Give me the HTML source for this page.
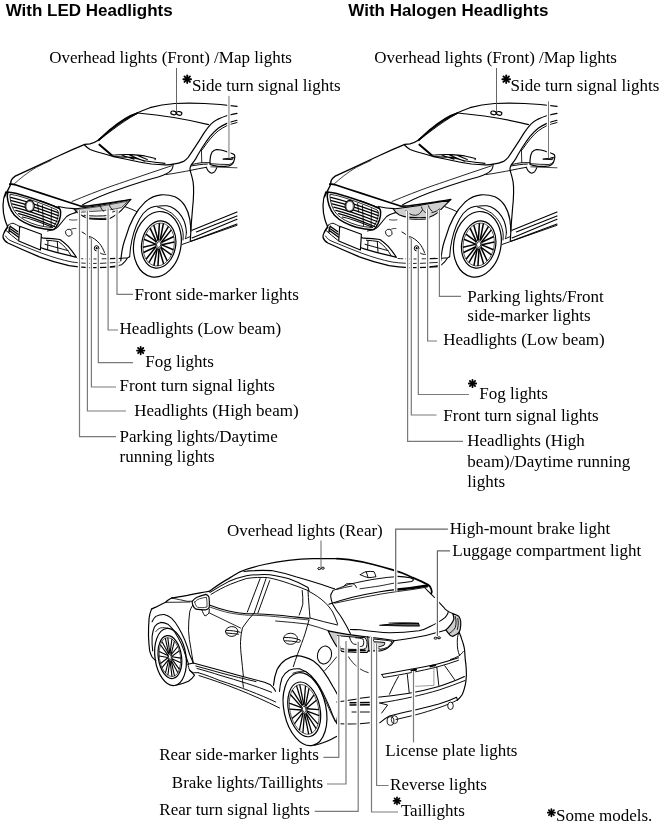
<!DOCTYPE html>
<html><head><meta charset="utf-8"><title>Exterior lights</title>
<style>
html,body{margin:0;padding:0;background:#fff;}
#pg{position:relative;width:660px;height:826px;overflow:hidden;font-family:"Liberation Serif",serif;color:#000;filter:grayscale(1);will-change:transform;}
.t{position:absolute;font:17px/20px "Liberation Serif",serif;white-space:nowrap;}
.h{position:absolute;font:bold 17px/20px "Liberation Sans",sans-serif;white-space:nowrap;}
svg{position:absolute;left:0;top:0;}
</style></head><body><div id="pg">
<svg width="660" height="826" viewBox="0 0 660 826">
<g>
<path d="M110 129.5 C120 121 130 115 137.6 112.8 C141.5 111 145.5 109.3 150 107.7 C158 105.3 166 104 174.5 103.5 C184 103 195 103 204.5 103.5 C215 104 226 105 237 106.4" fill="none" stroke="#000" stroke-width="1.22" stroke-linecap="round" stroke-linejoin="round" />
<path d="M137.6 113 C160 115 190 120 208.5 124.6" fill="none" stroke="#000" stroke-width="1.17" stroke-linecap="round" stroke-linejoin="round" />
<path d="M110 129.5 C106 133 102 137 98.2 140.2 C95.5 142 92.8 143.2 90 143.9 C88.2 144.2 86.5 144.3 84.8 144.4 C76.5 147.8 68.5 151.3 60.6 155 C52.5 158.7 44.4 162.5 36.4 166.4 C29.2 169.7 22.2 173 15.2 176.2 C13.5 177.3 12.2 178.6 11.4 180 C10.8 181.5 10.6 183 10.6 184.5 C9.8 186.6 8.7 188.6 7.6 190.6 C6.5 192.6 5.4 194.7 4.5 196.7" fill="none" stroke="#000" stroke-width="1.38" stroke-linecap="round" stroke-linejoin="round" />
<path d="M13.6 184.5 C20 178.5 27.5 172.5 36.4 167.3 C41 165 46 162.6 51 160.5" fill="none" stroke="#000" stroke-width="0.74" stroke-linecap="round" stroke-linejoin="round" />
<path d="M99 140.6 C103 137 108 133 113 129.5 C120 124.3 128 118.5 137.2 113.6" fill="none" stroke="#000" stroke-width="0.95" stroke-linecap="round" stroke-linejoin="round" />
<path d="M98.6 139.9 C102.5 136.6 106.5 133 110.5 130 C114.8 126.7 119.3 123.3 124 120.3 C128.4 117.5 133 114.9 137.5 113" fill="none" stroke="#000" stroke-width="1.59" stroke-linecap="round" stroke-linejoin="round" />
<path d="M9.8 184.2 C12 183.7 14 184.3 16 185 C24 187.6 32 190.3 40 192.9 C48 195.5 56 198.1 64.2 200.8 C70 202.7 76 204.6 81.2 206.2 C86 206.3 90.5 205.7 94.5 205 C103 203.7 112 202.5 120 201.4 C123.5 200.9 127 200.3 130.7 199.5" fill="none" stroke="#000" stroke-width="1.70" stroke-linecap="round" stroke-linejoin="round" />
<path d="M84.7 145.3 C86.5 147 88.2 148.4 90 149.5 C94 151 98 152.3 102 153.3 C105 154.2 107.8 155 110.5 155.7 C117 157.3 124 158.8 130.9 160.2 C137.5 161.7 144.5 163 151.4 164 C156.5 164.6 161.5 164.9 166.4 164.8 C168.7 164.7 171 164.5 173.2 164.1 C176.8 163.8 180.3 163 183.6 161.4 C185.3 160.2 186.8 158.9 188.2 157.3 C190.7 153.8 193.1 150.1 195.5 146.4 C198.3 142.2 201 137.9 203.6 133.6 C205.8 130.2 208.2 127 210.9 124.1 C213.1 122.2 215.5 120.5 218.2 119.1 C221.1 117.7 224.1 116.5 227.3 115.5 C230.5 114.6 233.7 113.9 237 113.4" fill="none" stroke="#000" stroke-width="1.17" stroke-linecap="round" stroke-linejoin="round" />
<path d="M99.5 144.7 L111.8 155.2" fill="none" stroke="#000" stroke-width="2.12" stroke-linecap="round" stroke-linejoin="round" />
<path d="M111.8 155.2 C118 154.6 124.5 154.4 130.9 154.6 C135.5 154.9 140 155.3 144.6 155.9 C148.3 156.6 152 157.5 155.5 158.6 L155 159.8 M113 156.6 C119 156.8 125 157 130.9 157.3 C135.5 158.2 140 159.4 144.6 160.7 C151.5 161.8 158.3 162.7 165 163.4 M129.5 155 C134.5 157.2 139.5 159.3 144.6 161.2 M137.7 155.6 C140.8 157 144 158.4 147.3 159.5 M122 155.3 L134 159.3" fill="none" stroke="#000" stroke-width="1.06" stroke-linecap="round" stroke-linejoin="round" />
<path d="M173.2 164.1 C173.2 166.2 172.7 168 171.8 169.6 C170.4 171.3 168.6 172.7 166.4 173.7 C163.8 175 161 176.1 158.2 177 C154.6 178.1 151 179.1 147.3 180 C135 183.8 122.5 188 110 192.5 C100 196 92 200 82.7 204.5" fill="none" stroke="#000" stroke-width="1.06" stroke-linecap="round" stroke-linejoin="round" />
<path d="M171.8 165.7 C158 170.3 143.5 175.2 129.5 180 C122.5 182.4 116 184.6 110 186.7 C98 191 85 196 72 201.5" fill="none" stroke="#000" stroke-width="0.85" stroke-linecap="round" stroke-linejoin="round" />
<path d="M166 174.6 C170.5 174 175.5 173.2 180 172.3 C183.7 171.7 187 171.1 190 170.5" fill="none" stroke="#000" stroke-width="0.85" stroke-linecap="round" stroke-linejoin="round" />
<path d="M237 120.3 C233.3 121.1 229.8 122.2 226.4 123.6 C223.5 124.9 220.8 126.4 218.2 128.2 C215.2 130.6 212.5 133.4 210 136.4 C207.1 140.2 204.4 144.2 201.8 148.2 C199.6 151.8 197.5 155.4 195.5 159.1 C194 161.3 192.4 163.4 190.9 165.5 C190.3 166.7 190 167.9 190 169.1 C190.2 170.5 190.5 171.8 190.9 173.1 C191.8 176 192.5 178.9 193.1 181.8 C193.6 185.4 193.7 189 193.6 192.7 C193.5 198 193.1 203.5 192.5 209 C192.2 213.4 191.8 217.8 191.4 222.1 C191.2 225 191 228 190.9 230.8 L190.3 240.6" fill="none" stroke="#000" stroke-width="1.17" stroke-linecap="round" stroke-linejoin="round" />
<path d="M237 122.5 C233.3 123.4 229.8 124.5 226.4 125.9 C223.5 127.3 220.8 129 218.2 130.9 C215.5 133.1 213.1 135.6 210.9 138.2 C207.9 141.7 205.2 145.4 202.7 149.1 L201.4 150.5" fill="none" stroke="#000" stroke-width="0.95" stroke-linecap="round" stroke-linejoin="round" />
<path d="M201.4 150 L201.8 162.7" fill="none" stroke="#000" stroke-width="0.85" stroke-linecap="round" stroke-linejoin="round" />
<path d="M191.8 164.5 C195 163.7 198.5 163.1 201.8 162.7 L209.6 162.7 M190.9 166 C196.5 165 202 164.2 207.3 164.1 M190 170.5 C195.5 169.3 201 168.2 206.4 167.3" fill="none" stroke="#000" stroke-width="0.95" stroke-linecap="round" stroke-linejoin="round" />
<path d="M210.9 166.8 L237 167.8" fill="none" stroke="#000" stroke-width="0.74" stroke-linecap="round" stroke-linejoin="round" />
<path d="M210 164.5 C209.9 161.7 210 159 210.5 156.4 C210.9 154.6 211.5 153.1 212.3 151.8 C213.3 150.7 214.5 150 215.9 149.7 C217.6 149.6 219.2 149.7 220.9 150 C223 150.5 225 151.1 226.8 151.8 C228.4 152.2 230 152.6 231.4 153.2 C232.6 153.6 233.7 154.2 234.5 155 C234.9 156.4 234.9 157.8 234.5 159.1 C234.1 160.7 233.5 162.2 232.7 163.6 C231.7 164.7 230.5 165.5 229.1 165.9 C225.5 166.3 221.8 166.5 218.2 166.4 C215.4 166 212.7 165.4 210 164.5 Z" fill="#fff" stroke="#000" stroke-width="1.17" stroke-linecap="round" stroke-linejoin="round" />
<path d="M210 163.6 C216.3 164.2 222.7 164.6 229.1 164.5 C230.7 164 232 163.3 233.2 162.3" fill="none" stroke="#000" stroke-width="0.85" stroke-linecap="round" stroke-linejoin="round" />
<path d="M206.4 167.3 C206.8 168.6 207.4 169.8 208.2 170.9 C209.1 172 210.2 172.8 211.4 173.2 C212.6 173 213.6 172.5 214.5 171.8 C215.5 170.6 216.3 169.2 216.8 167.7" fill="none" stroke="#000" stroke-width="1.06" stroke-linecap="round" stroke-linejoin="round" />
<path d="M223.2 159.1 C226.7 158.7 230.2 158.1 233.6 157.3 L232.5 159.3 Z" fill="#777" stroke="#000" stroke-width="0.95" stroke-linecap="round" stroke-linejoin="round" />
<ellipse cx="173.5" cy="112.9" rx="2.7" ry="1.8" fill="#fff" stroke="#000" stroke-width="1.2" transform="rotate(12 173.5 112.9)"/><ellipse cx="179.2" cy="113.4" rx="2.7" ry="1.8" fill="#fff" stroke="#000" stroke-width="1.2" transform="rotate(12 179.2 113.4)"/>
<path d="M192 230.3 L237 212.1 M196.3 231.9 L237 215.9 M192 237.9 L237 219.2 M190.9 241.2 L237 224.1" fill="none" stroke="#000" stroke-width="1.06" stroke-linecap="round" stroke-linejoin="round" />
<path d="M182.2 244.4 L237 225.3" fill="none" stroke="#000" stroke-width="0.95" stroke-linecap="round" stroke-linejoin="round" />
<path d="M120.8 260.8 C121.5 252 123 244 125.8 237 C128 229 130.5 223 133.6 217.4 C137 211 141 206 145.5 201.7 C150 197.8 155 195.3 161.2 194.8 C166 194.6 171 195.3 175 196.7 C179.5 199 182.5 202 184.8 205.6 C187.5 210 189 214.5 189.8 219.4 C190.5 224 190.8 227.5 190.8 231.2" fill="none" stroke="#000" stroke-width="1.17" stroke-linecap="round" stroke-linejoin="round" />
<path d="M129.7 256.8 C130 251 130.7 245.5 131.8 240.5 C133 235 134.5 230 136.4 225.5 C138.3 220.8 140.6 216.8 143.2 213.5 C145.6 210.6 148.2 208.6 151.1 207.5 C153.7 206.6 156.4 206.2 159.1 206 C161.8 205.7 164.4 205.6 167 205.8 C170 206.4 172.6 207.5 175 209.2 C177.8 211.2 180 213.7 181.8 216.6 C183.4 219 184.5 221.7 185.2 224.5 C185.9 227.2 186.3 229.8 186.4 232.5" fill="none" stroke="#000" stroke-width="1.06" stroke-linecap="round" stroke-linejoin="round" />
<path d="M157.5 207 C162.5 208.3 167.3 210.4 171.6 213.2 C174.8 215.8 177.4 218.8 179.5 222.3 C181.3 225.5 182.4 229 183 232.5 C183.3 235 183.3 237.5 183 240 M186.4 232.5 C186.3 235 185.9 237 185.2 238.8 L190.3 236.5" fill="none" stroke="#000" stroke-width="0.95" stroke-linecap="round" stroke-linejoin="round" />
<g transform="translate(157.4 244.3) rotate(10)"><ellipse rx="23.6" ry="33.0" fill="#fff" stroke="#000" stroke-width="1.2"/><g transform="translate(1.3 0)"><ellipse rx="16.99" ry="23.76" fill="#fff" stroke="#000" stroke-width="1.2"/><ellipse rx="15.46" ry="21.62" fill="none" stroke="#000" stroke-width="0.6"/><line x1="3.18" y1="-0.16" x2="15.35" y2="2.59" stroke="#000" stroke-width="1.5"/><line x1="2.74" y1="2.28" x2="14.36" y2="8.02" stroke="#000" stroke-width="1.5"/><line x1="2.64" y1="2.49" x2="11.33" y2="14.71" stroke="#000" stroke-width="1.5"/><line x1="1.26" y1="4.09" x2="8.25" y2="18.29" stroke="#000" stroke-width="1.5"/><line x1="1.09" y1="4.18" x2="2.98" y2="21.22" stroke="#000" stroke-width="1.5"/><line x1="-0.70" y1="4.35" x2="-1.02" y2="21.57" stroke="#000" stroke-width="1.5"/><line x1="-0.87" y1="4.28" x2="-6.50" y2="19.62" stroke="#000" stroke-width="1.5"/><line x1="-2.39" y1="2.94" x2="-9.89" y2="16.62" stroke="#000" stroke-width="1.5"/><line x1="-2.51" y1="2.75" x2="-13.51" y2="10.52" stroke="#000" stroke-width="1.5"/><line x1="-3.17" y1="0.41" x2="-14.99" y2="5.31" stroke="#000" stroke-width="1.5"/><line x1="-3.18" y1="0.16" x2="-15.35" y2="-2.59" stroke="#000" stroke-width="1.5"/><line x1="-2.74" y1="-2.28" x2="-14.36" y2="-8.02" stroke="#000" stroke-width="1.5"/><line x1="-2.64" y1="-2.49" x2="-11.33" y2="-14.71" stroke="#000" stroke-width="1.5"/><line x1="-1.26" y1="-4.09" x2="-8.25" y2="-18.29" stroke="#000" stroke-width="1.5"/><line x1="-1.09" y1="-4.18" x2="-2.98" y2="-21.22" stroke="#000" stroke-width="1.5"/><line x1="0.70" y1="-4.35" x2="1.02" y2="-21.57" stroke="#000" stroke-width="1.5"/><line x1="0.87" y1="-4.28" x2="6.50" y2="-19.62" stroke="#000" stroke-width="1.5"/><line x1="2.39" y1="-2.94" x2="9.89" y2="-16.62" stroke="#000" stroke-width="1.5"/><line x1="2.51" y1="-2.75" x2="13.51" y2="-10.52" stroke="#000" stroke-width="1.5"/><line x1="3.17" y1="-0.41" x2="14.99" y2="-5.31" stroke="#000" stroke-width="1.5"/><ellipse rx="3.19" ry="4.46" fill="none" stroke="#000" stroke-width="0.7"/><ellipse rx="2.12" ry="2.97" fill="#fff" stroke="#000" stroke-width="0.8"/></g></g>
<path d="M110 258.8 C116 258.8 122 258.4 127.7 257.8 L129.7 256.8 M110 266.7 C114 266.4 118 265.7 121.8 264.7 C124 263 126 260.5 127.7 257.8" fill="none" stroke="#000" stroke-width="1.06" stroke-linecap="round" stroke-linejoin="round" />
<path d="M124.8 206.6 C129 208 133 209.7 136.6 211.5" fill="none" stroke="#000" stroke-width="0.95" stroke-linecap="round" stroke-linejoin="round" />
</g>
<g><path d="M5.9 191.8 C4 196 3 201 3 205.6 C3 211 3.7 215.5 4.9 219.4 C5.7 222.5 7 225 7.9 227.3 C6 229 4.6 231 3.9 233.2 C3.2 234.5 2.9 236 3 237.3 C3.8 240 5.5 241.8 7.9 243 C18 247.7 29 252.5 39.4 256.8 C49 260.3 59 263.3 69 265.7 C76 267 82 267.5 88.6 267.6 C98 267.8 108 267.4 118 266.7" fill="none" stroke="#000" stroke-width="1.27" stroke-linecap="round" stroke-linejoin="round" />
<path d="M5.5 236 C7 238.5 9 240 12 241.3 C22 245.5 32 249.5 42 253.3 C52 257 62 260 72 262 C80 263.3 90 263.6 100 263.4 L119 262.3" fill="none" stroke="#000" stroke-width="0.85" stroke-linecap="round" stroke-linejoin="round" />
<path d="M7.9 192.1 C13.5 192.6 19 194 24.2 195.8 C30.5 197.7 36.5 199.7 42.4 201.8 C48.2 204 54 206.2 59.4 208.5 C60.2 209.5 60.5 210.5 60.6 211.5 C60.8 214.5 60.4 217.3 59.4 220 C58.6 222.8 57.4 225.2 55.8 227.3 C55.1 228.3 54.3 229.1 53.3 229.7 C47.5 229.6 41.8 228.8 36.4 227.3 C32 226 28 224.4 24.2 222.4 C20.4 220.4 17.2 218 14.5 215.2 C12 212.3 10.2 209 9.1 205.5 C8.2 202.8 7.6 200 7.3 197 C7.3 195.3 7.5 193.7 7.9 192.1 Z" fill="none" stroke="#000" stroke-width="1.48" stroke-linecap="round" stroke-linejoin="round" />
<path d="M10.4 194.3 C15 194.9 19.6 196.1 24 197.6 C30 199.5 36 201.5 41.8 203.7 C47 205.7 52.3 207.8 57.2 210 C57.9 211 58.2 212 58.3 213 C58.4 215.3 58 217.5 57.2 219.7 C56.5 222 55.5 224 54.2 225.7 C53.6 226.5 52.9 227 52.2 227.4 C47 227.2 42 226.4 37.2 225.1 C33 223.9 29.2 222.4 25.6 220.5 C22 218.6 19 216.4 16.5 213.8 C14.2 211.1 12.6 208 11.6 204.8 C10.8 202.4 10.3 199.8 10 197.2 Z" fill="none" stroke="#000" stroke-width="0.85" stroke-linecap="round" stroke-linejoin="round" />
<path d="M10.8 197.3 Q29.4 201.75 58 212.6" fill="none" stroke="#000" stroke-width="1.22" stroke-linecap="round" stroke-linejoin="round" />
<path d="M11.3 200.6 Q29.75 204.9 58.2 215.6" fill="none" stroke="#000" stroke-width="1.22" stroke-linecap="round" stroke-linejoin="round" />
<path d="M12.3 203.9 Q30.049999999999997 208.05 57.8 218.6" fill="none" stroke="#000" stroke-width="1.22" stroke-linecap="round" stroke-linejoin="round" />
<path d="M13.8 207.2 Q30.4 211.15 57 221.5" fill="none" stroke="#000" stroke-width="1.22" stroke-linecap="round" stroke-linejoin="round" />
<path d="M15.8 210.4 Q30.9 214.10000000000002 56 224.2" fill="none" stroke="#000" stroke-width="1.22" stroke-linecap="round" stroke-linejoin="round" />
<path d="M18.6 213.6 Q31.6 216.85000000000002 54.6 226.5" fill="none" stroke="#000" stroke-width="1.22" stroke-linecap="round" stroke-linejoin="round" />
<path d="M22.5 217 Q32.5 218.95000000000002 52.5 227.3" fill="none" stroke="#000" stroke-width="1.22" stroke-linecap="round" stroke-linejoin="round" />
<path d="M37.6 203.5 L38.6 212 M42.4 205.3 L43.5 225.5 M51.5 208.8 L51 227.3" fill="none" stroke="#000" stroke-width="0.85" stroke-linecap="round" stroke-linejoin="round" />
<ellipse cx="29.7" cy="206.1" rx="4.6" ry="5.7" fill="#fff" stroke="#000" stroke-width="1.1"/><ellipse cx="29.7" cy="206.1" rx="3.5" ry="4.6" fill="none" stroke="#000" stroke-width="0.5"/>
<path d="M58.2 206.4 C63.5 207.5 69 208.3 74 208.6 C75.3 209.8 76.2 211 76.4 212.3 C75.2 212.9 74 213.2 72.7 213.5 C70.5 214.2 68.5 215.2 66.7 216.5 C64.5 218.8 62.5 221.3 60.6 223.8 C59.2 225.7 57.6 227.3 55.8 228.6 C53.2 229.9 50.3 230.7 47.3 231 M40 200.8 C46.5 203 53 205.5 59.4 208" fill="none" stroke="#000" stroke-width="1.06" stroke-linecap="round" stroke-linejoin="round" />
<path d="M19.7 226.3 L41.4 234.2 L40.4 250 L18.7 241 Z" fill="#fff" stroke="#000" stroke-width="1.17" stroke-linecap="round" stroke-linejoin="round" />
<path d="M8.2 225.2 C9.7 224 11.3 223.3 13 223.2 C15.3 224 17.6 225.3 19.8 226.6 M5.5 230 C9.5 233.5 13.5 237 17.7 240.2 M8.2 225.2 C7 226.7 6.1 228.3 5.5 230" fill="none" stroke="#000" stroke-width="0.95" stroke-linecap="round" stroke-linejoin="round" />
<path d="M10.5 226.5 L17.5 231.5 M9.5 228.3 L18 234.3 M9 230.3 L18.3 237 M10.3 226 C9.3 228 8.8 230 9 232" fill="none" stroke="#000" stroke-width="1.38" stroke-linecap="round" stroke-linejoin="round" />
<path d="M41.6 237.6 C42.3 237.8 43 238 43.7 238.2 C49 238.5 54.5 238.9 60 239.5 C63 241.6 65.7 243.9 68.2 246.4 C71.2 249.9 74 253.5 76.4 257.3 C74.5 257 72.7 256.5 70.9 255.9 C62 254 53.3 251.7 45 249.1 L41 247.8" fill="none" stroke="#000" stroke-width="1.17" stroke-linecap="round" stroke-linejoin="round" />
<path d="M46.4 240.2 C50.5 240.5 54.6 241 58.7 241.6 C61.2 243.5 63.4 245.5 65.5 247.7 C67.6 250.2 69.5 252.8 71 255.3 M45 244.3 C52.7 246.3 60.5 248.5 68.2 250.7 M57.3 241.5 L58 252.5 M48 240.5 L47.6 249.5" fill="none" stroke="#000" stroke-width="0.95" stroke-linecap="round" stroke-linejoin="round" />
<ellipse cx="68.8" cy="232.7" rx="3.2" ry="3.6" fill="#fff" stroke="#000" stroke-width="0.8" transform="rotate(-25 68.8 232.7)"/>
<path d="M70.5 229.6 C72 228.6 74 228.2 76 228.6 M69.5 219.7 C72 220.2 74.5 220.2 77 219.8" fill="none" stroke="#000" stroke-width="0.74" stroke-linecap="round" stroke-linejoin="round" />
<path d="M82 232 C85 233.5 88 236 90.5 239 M89 236.3 C93 237.5 96.5 240 99.5 243.5 C101.5 246 103.2 249 104.5 252.5 M100.5 253.2 C102 254.2 104 254.6 106 254.3" fill="none" stroke="#000" stroke-width="0.95" stroke-linecap="round" stroke-linejoin="round" />
<ellipse cx="96.6" cy="248.3" rx="2.3" ry="2.6" fill="#fff" stroke="#000" stroke-width="1.0"/><ellipse cx="96.6" cy="248.3" rx="1.0" ry="1.2" fill="#000"/>
<path d="M78 258.5 C90 259.3 104 259 116 258.2" fill="none" stroke="#000" stroke-width="0.85" stroke-linecap="round" stroke-linejoin="round" stroke-dasharray="5 3"/>
<path d="M73.9 208.9 C75.3 210.5 76.8 212 78.2 213.2 C81.5 215.3 84.7 217.2 87.9 218.6 C94.5 219.4 101.5 219.6 108.5 219.2 C112 217.5 115.3 215.5 118.2 213.2 C120.4 211.3 122.4 209.3 124.2 207.1 C126.4 204.5 128.5 202 130.3 199.8 C122 201.3 113 203 104 204.6 C97 206 90 207.2 82.7 207.7 C79.7 208.2 76.8 208.6 73.9 208.9 Z" fill="#fff" stroke="#000" stroke-width="1.06" stroke-linecap="round" stroke-linejoin="round" />
<path d="M75.5 209.3 C84 208.8 93 207.5 102 206 C110 204.6 119 202.8 127.5 201.2 C125.5 203.6 123.5 205.8 121.5 207.6 C113 209.6 104 210.8 95 211.3 C89 211.6 83.5 212 79 212.6 C77.7 211.6 76.5 210.5 75.5 209.3 Z" fill="#cfcfcf" stroke="#000" stroke-width="0.64" stroke-linecap="round" stroke-linejoin="round" />
<path d="M84 215.3 C92 216.3 101 216.3 109.5 215.4 M88 218 C95 218.6 102 218.6 108.5 218" fill="none" stroke="#000" stroke-width="0.95" stroke-linecap="round" stroke-linejoin="round" />
<path d="M100.5 206.3 C101 208.5 102 210.3 103.8 211.3 M109.3 204.8 C110 207 111.3 209 113 210 M112.5 212 L117.5 210.5" fill="none" stroke="#000" stroke-width="0.85" stroke-linecap="round" stroke-linejoin="round" />
</g>
<g transform="translate(320 0)"><g>
<path d="M110 129.5 C120 121 130 115 137.6 112.8 C141.5 111 145.5 109.3 150 107.7 C158 105.3 166 104 174.5 103.5 C184 103 195 103 204.5 103.5 C215 104 226 105 237 106.4" fill="none" stroke="#000" stroke-width="1.22" stroke-linecap="round" stroke-linejoin="round" />
<path d="M137.6 113 C160 115 190 120 208.5 124.6" fill="none" stroke="#000" stroke-width="1.17" stroke-linecap="round" stroke-linejoin="round" />
<path d="M110 129.5 C106 133 102 137 98.2 140.2 C95.5 142 92.8 143.2 90 143.9 C88.2 144.2 86.5 144.3 84.8 144.4 C76.5 147.8 68.5 151.3 60.6 155 C52.5 158.7 44.4 162.5 36.4 166.4 C29.2 169.7 22.2 173 15.2 176.2 C13.5 177.3 12.2 178.6 11.4 180 C10.8 181.5 10.6 183 10.6 184.5 C9.8 186.6 8.7 188.6 7.6 190.6 C6.5 192.6 5.4 194.7 4.5 196.7" fill="none" stroke="#000" stroke-width="1.38" stroke-linecap="round" stroke-linejoin="round" />
<path d="M13.6 184.5 C20 178.5 27.5 172.5 36.4 167.3 C41 165 46 162.6 51 160.5" fill="none" stroke="#000" stroke-width="0.74" stroke-linecap="round" stroke-linejoin="round" />
<path d="M99 140.6 C103 137 108 133 113 129.5 C120 124.3 128 118.5 137.2 113.6" fill="none" stroke="#000" stroke-width="0.95" stroke-linecap="round" stroke-linejoin="round" />
<path d="M98.6 139.9 C102.5 136.6 106.5 133 110.5 130 C114.8 126.7 119.3 123.3 124 120.3 C128.4 117.5 133 114.9 137.5 113" fill="none" stroke="#000" stroke-width="1.59" stroke-linecap="round" stroke-linejoin="round" />
<path d="M9.8 184.2 C12 183.7 14 184.3 16 185 C24 187.6 32 190.3 40 192.9 C48 195.5 56 198.1 64.2 200.8 C70 202.7 76 204.6 81.2 206.2 C86 206.3 90.5 205.7 94.5 205 C103 203.7 112 202.5 120 201.4 C123.5 200.9 127 200.3 130.7 199.5" fill="none" stroke="#000" stroke-width="1.70" stroke-linecap="round" stroke-linejoin="round" />
<path d="M84.7 145.3 C86.5 147 88.2 148.4 90 149.5 C94 151 98 152.3 102 153.3 C105 154.2 107.8 155 110.5 155.7 C117 157.3 124 158.8 130.9 160.2 C137.5 161.7 144.5 163 151.4 164 C156.5 164.6 161.5 164.9 166.4 164.8 C168.7 164.7 171 164.5 173.2 164.1 C176.8 163.8 180.3 163 183.6 161.4 C185.3 160.2 186.8 158.9 188.2 157.3 C190.7 153.8 193.1 150.1 195.5 146.4 C198.3 142.2 201 137.9 203.6 133.6 C205.8 130.2 208.2 127 210.9 124.1 C213.1 122.2 215.5 120.5 218.2 119.1 C221.1 117.7 224.1 116.5 227.3 115.5 C230.5 114.6 233.7 113.9 237 113.4" fill="none" stroke="#000" stroke-width="1.17" stroke-linecap="round" stroke-linejoin="round" />
<path d="M99.5 144.7 L111.8 155.2" fill="none" stroke="#000" stroke-width="2.12" stroke-linecap="round" stroke-linejoin="round" />
<path d="M111.8 155.2 C118 154.6 124.5 154.4 130.9 154.6 C135.5 154.9 140 155.3 144.6 155.9 C148.3 156.6 152 157.5 155.5 158.6 L155 159.8 M113 156.6 C119 156.8 125 157 130.9 157.3 C135.5 158.2 140 159.4 144.6 160.7 C151.5 161.8 158.3 162.7 165 163.4 M129.5 155 C134.5 157.2 139.5 159.3 144.6 161.2 M137.7 155.6 C140.8 157 144 158.4 147.3 159.5 M122 155.3 L134 159.3" fill="none" stroke="#000" stroke-width="1.06" stroke-linecap="round" stroke-linejoin="round" />
<path d="M173.2 164.1 C173.2 166.2 172.7 168 171.8 169.6 C170.4 171.3 168.6 172.7 166.4 173.7 C163.8 175 161 176.1 158.2 177 C154.6 178.1 151 179.1 147.3 180 C135 183.8 122.5 188 110 192.5 C100 196 92 200 82.7 204.5" fill="none" stroke="#000" stroke-width="1.06" stroke-linecap="round" stroke-linejoin="round" />
<path d="M171.8 165.7 C158 170.3 143.5 175.2 129.5 180 C122.5 182.4 116 184.6 110 186.7 C98 191 85 196 72 201.5" fill="none" stroke="#000" stroke-width="0.85" stroke-linecap="round" stroke-linejoin="round" />
<path d="M166 174.6 C170.5 174 175.5 173.2 180 172.3 C183.7 171.7 187 171.1 190 170.5" fill="none" stroke="#000" stroke-width="0.85" stroke-linecap="round" stroke-linejoin="round" />
<path d="M237 120.3 C233.3 121.1 229.8 122.2 226.4 123.6 C223.5 124.9 220.8 126.4 218.2 128.2 C215.2 130.6 212.5 133.4 210 136.4 C207.1 140.2 204.4 144.2 201.8 148.2 C199.6 151.8 197.5 155.4 195.5 159.1 C194 161.3 192.4 163.4 190.9 165.5 C190.3 166.7 190 167.9 190 169.1 C190.2 170.5 190.5 171.8 190.9 173.1 C191.8 176 192.5 178.9 193.1 181.8 C193.6 185.4 193.7 189 193.6 192.7 C193.5 198 193.1 203.5 192.5 209 C192.2 213.4 191.8 217.8 191.4 222.1 C191.2 225 191 228 190.9 230.8 L190.3 240.6" fill="none" stroke="#000" stroke-width="1.17" stroke-linecap="round" stroke-linejoin="round" />
<path d="M237 122.5 C233.3 123.4 229.8 124.5 226.4 125.9 C223.5 127.3 220.8 129 218.2 130.9 C215.5 133.1 213.1 135.6 210.9 138.2 C207.9 141.7 205.2 145.4 202.7 149.1 L201.4 150.5" fill="none" stroke="#000" stroke-width="0.95" stroke-linecap="round" stroke-linejoin="round" />
<path d="M201.4 150 L201.8 162.7" fill="none" stroke="#000" stroke-width="0.85" stroke-linecap="round" stroke-linejoin="round" />
<path d="M191.8 164.5 C195 163.7 198.5 163.1 201.8 162.7 L209.6 162.7 M190.9 166 C196.5 165 202 164.2 207.3 164.1 M190 170.5 C195.5 169.3 201 168.2 206.4 167.3" fill="none" stroke="#000" stroke-width="0.95" stroke-linecap="round" stroke-linejoin="round" />
<path d="M210.9 166.8 L237 167.8" fill="none" stroke="#000" stroke-width="0.74" stroke-linecap="round" stroke-linejoin="round" />
<path d="M210 164.5 C209.9 161.7 210 159 210.5 156.4 C210.9 154.6 211.5 153.1 212.3 151.8 C213.3 150.7 214.5 150 215.9 149.7 C217.6 149.6 219.2 149.7 220.9 150 C223 150.5 225 151.1 226.8 151.8 C228.4 152.2 230 152.6 231.4 153.2 C232.6 153.6 233.7 154.2 234.5 155 C234.9 156.4 234.9 157.8 234.5 159.1 C234.1 160.7 233.5 162.2 232.7 163.6 C231.7 164.7 230.5 165.5 229.1 165.9 C225.5 166.3 221.8 166.5 218.2 166.4 C215.4 166 212.7 165.4 210 164.5 Z" fill="#fff" stroke="#000" stroke-width="1.17" stroke-linecap="round" stroke-linejoin="round" />
<path d="M210 163.6 C216.3 164.2 222.7 164.6 229.1 164.5 C230.7 164 232 163.3 233.2 162.3" fill="none" stroke="#000" stroke-width="0.85" stroke-linecap="round" stroke-linejoin="round" />
<path d="M206.4 167.3 C206.8 168.6 207.4 169.8 208.2 170.9 C209.1 172 210.2 172.8 211.4 173.2 C212.6 173 213.6 172.5 214.5 171.8 C215.5 170.6 216.3 169.2 216.8 167.7" fill="none" stroke="#000" stroke-width="1.06" stroke-linecap="round" stroke-linejoin="round" />
<path d="M223.2 159.1 C226.7 158.7 230.2 158.1 233.6 157.3 L232.5 159.3 Z" fill="#777" stroke="#000" stroke-width="0.95" stroke-linecap="round" stroke-linejoin="round" />
<ellipse cx="173.5" cy="112.9" rx="2.7" ry="1.8" fill="#fff" stroke="#000" stroke-width="1.2" transform="rotate(12 173.5 112.9)"/><ellipse cx="179.2" cy="113.4" rx="2.7" ry="1.8" fill="#fff" stroke="#000" stroke-width="1.2" transform="rotate(12 179.2 113.4)"/>
<path d="M192 230.3 L237 212.1 M196.3 231.9 L237 215.9 M192 237.9 L237 219.2 M190.9 241.2 L237 224.1" fill="none" stroke="#000" stroke-width="1.06" stroke-linecap="round" stroke-linejoin="round" />
<path d="M182.2 244.4 L237 225.3" fill="none" stroke="#000" stroke-width="0.95" stroke-linecap="round" stroke-linejoin="round" />
<path d="M120.8 260.8 C121.5 252 123 244 125.8 237 C128 229 130.5 223 133.6 217.4 C137 211 141 206 145.5 201.7 C150 197.8 155 195.3 161.2 194.8 C166 194.6 171 195.3 175 196.7 C179.5 199 182.5 202 184.8 205.6 C187.5 210 189 214.5 189.8 219.4 C190.5 224 190.8 227.5 190.8 231.2" fill="none" stroke="#000" stroke-width="1.17" stroke-linecap="round" stroke-linejoin="round" />
<path d="M129.7 256.8 C130 251 130.7 245.5 131.8 240.5 C133 235 134.5 230 136.4 225.5 C138.3 220.8 140.6 216.8 143.2 213.5 C145.6 210.6 148.2 208.6 151.1 207.5 C153.7 206.6 156.4 206.2 159.1 206 C161.8 205.7 164.4 205.6 167 205.8 C170 206.4 172.6 207.5 175 209.2 C177.8 211.2 180 213.7 181.8 216.6 C183.4 219 184.5 221.7 185.2 224.5 C185.9 227.2 186.3 229.8 186.4 232.5" fill="none" stroke="#000" stroke-width="1.06" stroke-linecap="round" stroke-linejoin="round" />
<path d="M157.5 207 C162.5 208.3 167.3 210.4 171.6 213.2 C174.8 215.8 177.4 218.8 179.5 222.3 C181.3 225.5 182.4 229 183 232.5 C183.3 235 183.3 237.5 183 240 M186.4 232.5 C186.3 235 185.9 237 185.2 238.8 L190.3 236.5" fill="none" stroke="#000" stroke-width="0.95" stroke-linecap="round" stroke-linejoin="round" />
<g transform="translate(157.4 244.3) rotate(10)"><ellipse rx="23.6" ry="33.0" fill="#fff" stroke="#000" stroke-width="1.2"/><g transform="translate(1.3 0)"><ellipse rx="16.99" ry="23.76" fill="#fff" stroke="#000" stroke-width="1.2"/><ellipse rx="15.46" ry="21.62" fill="none" stroke="#000" stroke-width="0.6"/><line x1="3.18" y1="-0.16" x2="15.35" y2="2.59" stroke="#000" stroke-width="1.5"/><line x1="2.74" y1="2.28" x2="14.36" y2="8.02" stroke="#000" stroke-width="1.5"/><line x1="2.64" y1="2.49" x2="11.33" y2="14.71" stroke="#000" stroke-width="1.5"/><line x1="1.26" y1="4.09" x2="8.25" y2="18.29" stroke="#000" stroke-width="1.5"/><line x1="1.09" y1="4.18" x2="2.98" y2="21.22" stroke="#000" stroke-width="1.5"/><line x1="-0.70" y1="4.35" x2="-1.02" y2="21.57" stroke="#000" stroke-width="1.5"/><line x1="-0.87" y1="4.28" x2="-6.50" y2="19.62" stroke="#000" stroke-width="1.5"/><line x1="-2.39" y1="2.94" x2="-9.89" y2="16.62" stroke="#000" stroke-width="1.5"/><line x1="-2.51" y1="2.75" x2="-13.51" y2="10.52" stroke="#000" stroke-width="1.5"/><line x1="-3.17" y1="0.41" x2="-14.99" y2="5.31" stroke="#000" stroke-width="1.5"/><line x1="-3.18" y1="0.16" x2="-15.35" y2="-2.59" stroke="#000" stroke-width="1.5"/><line x1="-2.74" y1="-2.28" x2="-14.36" y2="-8.02" stroke="#000" stroke-width="1.5"/><line x1="-2.64" y1="-2.49" x2="-11.33" y2="-14.71" stroke="#000" stroke-width="1.5"/><line x1="-1.26" y1="-4.09" x2="-8.25" y2="-18.29" stroke="#000" stroke-width="1.5"/><line x1="-1.09" y1="-4.18" x2="-2.98" y2="-21.22" stroke="#000" stroke-width="1.5"/><line x1="0.70" y1="-4.35" x2="1.02" y2="-21.57" stroke="#000" stroke-width="1.5"/><line x1="0.87" y1="-4.28" x2="6.50" y2="-19.62" stroke="#000" stroke-width="1.5"/><line x1="2.39" y1="-2.94" x2="9.89" y2="-16.62" stroke="#000" stroke-width="1.5"/><line x1="2.51" y1="-2.75" x2="13.51" y2="-10.52" stroke="#000" stroke-width="1.5"/><line x1="3.17" y1="-0.41" x2="14.99" y2="-5.31" stroke="#000" stroke-width="1.5"/><ellipse rx="3.19" ry="4.46" fill="none" stroke="#000" stroke-width="0.7"/><ellipse rx="2.12" ry="2.97" fill="#fff" stroke="#000" stroke-width="0.8"/></g></g>
<path d="M110 258.8 C116 258.8 122 258.4 127.7 257.8 L129.7 256.8 M110 266.7 C114 266.4 118 265.7 121.8 264.7 C124 263 126 260.5 127.7 257.8" fill="none" stroke="#000" stroke-width="1.06" stroke-linecap="round" stroke-linejoin="round" />
<path d="M124.8 206.6 C129 208 133 209.7 136.6 211.5" fill="none" stroke="#000" stroke-width="0.95" stroke-linecap="round" stroke-linejoin="round" />
</g>
<path d="M5.9 191.8 C4 196 3 201 3 205.6 C3 211 3.7 215.5 4.9 219.4 C5.7 222.5 7 225 7.9 227.3 C6 229 4.6 231 3.9 233.2 C3.2 234.5 2.9 236 3 237.3 C3.8 240 5.5 241.8 7.9 243 C18 247.7 29 252.5 39.4 256.8 C49 260.3 59 263.3 69 265.7 C76 267 82 267.5 88.6 267.6 C98 267.8 108 267.4 118 266.7" fill="none" stroke="#000" stroke-width="1.27" stroke-linecap="round" stroke-linejoin="round" />
<path d="M5.5 236 C7 238.5 9 240 12 241.3 C22 245.5 32 249.5 42 253.3 C52 257 62 260 72 262 C80 263.3 90 263.6 100 263.4 L119 262.3" fill="none" stroke="#000" stroke-width="0.85" stroke-linecap="round" stroke-linejoin="round" />
<path d="M7.9 192.1 C13.5 192.6 19 194 24.2 195.8 C30.5 197.7 36.5 199.7 42.4 201.8 C48.2 204 54 206.2 59.4 208.5 C60.2 209.5 60.5 210.5 60.6 211.5 C60.8 214.5 60.4 217.3 59.4 220 C58.6 222.8 57.4 225.2 55.8 227.3 C55.1 228.3 54.3 229.1 53.3 229.7 C47.5 229.6 41.8 228.8 36.4 227.3 C32 226 28 224.4 24.2 222.4 C20.4 220.4 17.2 218 14.5 215.2 C12 212.3 10.2 209 9.1 205.5 C8.2 202.8 7.6 200 7.3 197 C7.3 195.3 7.5 193.7 7.9 192.1 Z" fill="none" stroke="#000" stroke-width="1.48" stroke-linecap="round" stroke-linejoin="round" />
<path d="M10.4 194.3 C15 194.9 19.6 196.1 24 197.6 C30 199.5 36 201.5 41.8 203.7 C47 205.7 52.3 207.8 57.2 210 C57.9 211 58.2 212 58.3 213 C58.4 215.3 58 217.5 57.2 219.7 C56.5 222 55.5 224 54.2 225.7 C53.6 226.5 52.9 227 52.2 227.4 C47 227.2 42 226.4 37.2 225.1 C33 223.9 29.2 222.4 25.6 220.5 C22 218.6 19 216.4 16.5 213.8 C14.2 211.1 12.6 208 11.6 204.8 C10.8 202.4 10.3 199.8 10 197.2 Z" fill="none" stroke="#000" stroke-width="0.85" stroke-linecap="round" stroke-linejoin="round" />
<path d="M10.8 197.3 Q29.4 201.75 58 212.6" fill="none" stroke="#000" stroke-width="1.22" stroke-linecap="round" stroke-linejoin="round" />
<path d="M11.3 200.6 Q29.75 204.9 58.2 215.6" fill="none" stroke="#000" stroke-width="1.22" stroke-linecap="round" stroke-linejoin="round" />
<path d="M12.3 203.9 Q30.049999999999997 208.05 57.8 218.6" fill="none" stroke="#000" stroke-width="1.22" stroke-linecap="round" stroke-linejoin="round" />
<path d="M13.8 207.2 Q30.4 211.15 57 221.5" fill="none" stroke="#000" stroke-width="1.22" stroke-linecap="round" stroke-linejoin="round" />
<path d="M15.8 210.4 Q30.9 214.10000000000002 56 224.2" fill="none" stroke="#000" stroke-width="1.22" stroke-linecap="round" stroke-linejoin="round" />
<path d="M18.6 213.6 Q31.6 216.85000000000002 54.6 226.5" fill="none" stroke="#000" stroke-width="1.22" stroke-linecap="round" stroke-linejoin="round" />
<path d="M22.5 217 Q32.5 218.95000000000002 52.5 227.3" fill="none" stroke="#000" stroke-width="1.22" stroke-linecap="round" stroke-linejoin="round" />
<path d="M37.6 203.5 L38.6 212 M42.4 205.3 L43.5 225.5 M51.5 208.8 L51 227.3" fill="none" stroke="#000" stroke-width="0.85" stroke-linecap="round" stroke-linejoin="round" />
<ellipse cx="29.7" cy="206.1" rx="4.6" ry="5.7" fill="#fff" stroke="#000" stroke-width="1.1"/><ellipse cx="29.7" cy="206.1" rx="3.5" ry="4.6" fill="none" stroke="#000" stroke-width="0.5"/>
<path d="M58.2 206.4 C63.5 207.5 69 208.3 74 208.6 C75.3 209.8 76.2 211 76.4 212.3 C75.2 212.9 74 213.2 72.7 213.5 C70.5 214.2 68.5 215.2 66.7 216.5 C64.5 218.8 62.5 221.3 60.6 223.8 C59.2 225.7 57.6 227.3 55.8 228.6 C53.2 229.9 50.3 230.7 47.3 231 M40 200.8 C46.5 203 53 205.5 59.4 208" fill="none" stroke="#000" stroke-width="1.06" stroke-linecap="round" stroke-linejoin="round" />
<path d="M19.7 226.3 L41.4 234.2 L40.4 250 L18.7 241 Z" fill="#fff" stroke="#000" stroke-width="1.17" stroke-linecap="round" stroke-linejoin="round" />
<path d="M8.2 225.2 C9.7 224 11.3 223.3 13 223.2 C15.3 224 17.6 225.3 19.8 226.6 M5.5 230 C9.5 233.5 13.5 237 17.7 240.2 M8.2 225.2 C7 226.7 6.1 228.3 5.5 230" fill="none" stroke="#000" stroke-width="0.95" stroke-linecap="round" stroke-linejoin="round" />
<path d="M10.5 226.5 L17.5 231.5 M9.5 228.3 L18 234.3 M9 230.3 L18.3 237 M10.3 226 C9.3 228 8.8 230 9 232" fill="none" stroke="#000" stroke-width="1.38" stroke-linecap="round" stroke-linejoin="round" />
<path d="M41.6 237.6 C42.3 237.8 43 238 43.7 238.2 C49 238.5 54.5 238.9 60 239.5 C63 241.6 65.7 243.9 68.2 246.4 C71.2 249.9 74 253.5 76.4 257.3 C74.5 257 72.7 256.5 70.9 255.9 C62 254 53.3 251.7 45 249.1 L41 247.8" fill="none" stroke="#000" stroke-width="1.17" stroke-linecap="round" stroke-linejoin="round" />
<path d="M46.4 240.2 C50.5 240.5 54.6 241 58.7 241.6 C61.2 243.5 63.4 245.5 65.5 247.7 C67.6 250.2 69.5 252.8 71 255.3 M45 244.3 C52.7 246.3 60.5 248.5 68.2 250.7 M57.3 241.5 L58 252.5 M48 240.5 L47.6 249.5" fill="none" stroke="#000" stroke-width="0.95" stroke-linecap="round" stroke-linejoin="round" />
<ellipse cx="68.8" cy="232.7" rx="3.2" ry="3.6" fill="#fff" stroke="#000" stroke-width="0.8" transform="rotate(-25 68.8 232.7)"/>
<path d="M70.5 229.6 C72 228.6 74 228.2 76 228.6 M69.5 219.7 C72 220.2 74.5 220.2 77 219.8" fill="none" stroke="#000" stroke-width="0.74" stroke-linecap="round" stroke-linejoin="round" />
<path d="M82 232 C85 233.5 88 236 90.5 239 M89 236.3 C93 237.5 96.5 240 99.5 243.5 C101.5 246 103.2 249 104.5 252.5 M100.5 253.2 C102 254.2 104 254.6 106 254.3" fill="none" stroke="#000" stroke-width="0.95" stroke-linecap="round" stroke-linejoin="round" />
<ellipse cx="96.6" cy="248.3" rx="2.3" ry="2.6" fill="#fff" stroke="#000" stroke-width="1.0"/><ellipse cx="96.6" cy="248.3" rx="1.0" ry="1.2" fill="#000"/>
<path d="M78 258.5 C90 259.3 104 259 116 258.2" fill="none" stroke="#000" stroke-width="0.85" stroke-linecap="round" stroke-linejoin="round" stroke-dasharray="5 3"/>
<path d="M73.3 209 C74.8 211.5 76.8 213.5 79.4 215 C82.8 216.5 86.5 217.2 90.3 217.4 C96.5 217.8 102.5 217.8 108.5 217.4 C112 216.5 114.8 215 117 213.2 C119.8 210.8 122.2 208.4 124.2 206.1 C126.4 204 128.5 202 130.3 200.2 C122 201.5 113 203 104 204.6 C97 206 90 207.2 82.7 207.7 C79.5 208.2 76.3 208.7 73.3 209 Z" fill="#cfcfcf" stroke="#000" stroke-width="1.06" stroke-linecap="round" stroke-linejoin="round" />
<path d="M86 210.5 C88 213.5 91.5 215.3 95.5 215.3 C98.5 215 100.7 213 102 210.5 M101.5 207 C102 209.5 103.5 211.5 105.5 212.5 M108.5 205.8 C109 208 110.3 210 112 211 M112 212.5 C115 212 117.5 210.8 119.5 209" fill="none" stroke="#000" stroke-width="0.85" stroke-linecap="round" stroke-linejoin="round" />
<path d="M88 218.8 C95 219.6 102 219.6 109 218.8" fill="none" stroke="#000" stroke-width="0.95" stroke-linecap="round" stroke-linejoin="round" />
</g>
<g>
<path d="M209 591.4 C216 586.5 222 582 228.6 578.6 C232.5 576.2 236.2 574 240 571.8 C243.4 570.4 246.8 569.2 250.3 568.2 C254.8 566.8 259.5 565.6 264.2 564.5 C272 562.8 280.2 561.4 288.5 560.4 C296.5 559.5 304.6 558.9 312.7 558.7 C320.8 558.5 329 558.5 337 558.7" fill="none" stroke="#000" stroke-width="1.27" stroke-linecap="round" stroke-linejoin="round" />
<path d="M337 558.7 C341 558.9 345 559.2 349 559.7 C357.2 560.9 365.3 562.5 373.3 564.5 C379.8 566.2 386.3 568 392.7 569.9 C396 570.9 399.2 571.9 402.3 573 C405.8 574.4 409.3 576 412.7 577.7 C418 580 423 582.2 427.7 584.5 C429 585.3 430 586.2 430.5 587.3 C431.3 588.8 431.7 590.4 431.8 592 L431.2 593.5" fill="none" stroke="#000" stroke-width="1.80" stroke-linecap="round" stroke-linejoin="round" />
<path d="M209 591.4 C201 592.5 194 594 187.3 595.4 C181 596.5 176 597.2 171.5 598 C169 599.3 167 600.8 165.6 602.3 C162 604 159 605.5 155.8 607.2 C153.8 608 152.5 608.6 151.5 609.1" fill="none" stroke="#000" stroke-width="1.27" stroke-linecap="round" stroke-linejoin="round" />
<path d="M171.5 598 C177 599 182 600.2 187.3 601.3 L192.5 601.2 M165.6 602.3 C174 602.3 182 602.2 190 602" fill="none" stroke="#000" stroke-width="0.85" stroke-linecap="round" stroke-linejoin="round" />
<path d="M210 592.4 C216 588.5 222 585 228.6 581.6 C234.5 579 240 577 246.4 575.7 C254 574.7 262 574.4 270 574.7 C276 575.8 283 577.2 289 578.8 C296 581.3 302 584 308 587.5 L309 591" fill="none" stroke="#000" stroke-width="1.06" stroke-linecap="round" stroke-linejoin="round" />
<path d="M211 594.4 C217.5 590.3 224 587 230.6 584.2 C236 582 241 580.3 246.4 578.5 C254 577.3 262 577.2 267.7 577.6 C275 579 282 581 289.4 583.6 C296 585.8 302 588 308 590.5" fill="none" stroke="#000" stroke-width="0.95" stroke-linecap="round" stroke-linejoin="round" />
<path d="M244 571.6 C247.5 571 251 570.7 254.5 570.6 C260.2 570.3 265.8 570.3 271.5 570.6 C279.8 572.2 287.9 574.2 295.8 576.7 C304 579 312.1 581.4 320 583.9 C325 585.6 329.8 587.3 334.5 588.8" fill="none" stroke="#000" stroke-width="1.06" stroke-linecap="round" stroke-linejoin="round" />
<path d="M210 605.2 C216 607.5 222 609.5 228.6 611 C234.5 612.3 240 613.2 246.4 613.7 C256 613.6 266 614 275.6 615 C287 616 298 617.3 309 618.4" fill="none" stroke="#000" stroke-width="1.06" stroke-linecap="round" stroke-linejoin="round" />
<path d="M210.5 607.3 C217 609.5 223 611.5 229 612.8 C235 614 241 614.8 247 615.2 C256 615.2 266 615.6 275.6 616.6 C287 617.6 298 619 309 620" fill="none" stroke="#000" stroke-width="0.74" stroke-linecap="round" stroke-linejoin="round" />
<path d="M260.1 578.6 L247.3 612.1 M266 578.6 L254.2 613 M269.7 580.6 L257.9 613" fill="none" stroke="#000" stroke-width="0.95" stroke-linecap="round" stroke-linejoin="round" />
<path d="M302.2 590.5 C302.8 595 303 600 302.8 604.2 C301.8 608 300.5 612 299.2 615 M308 590.5 C308.5 600 309.3 610 310 618" fill="none" stroke="#000" stroke-width="0.95" stroke-linecap="round" stroke-linejoin="round" />
<path d="M309 591.4 C315 594.5 320 598 324.8 602.3 C328 605.5 330.5 608.5 332.7 612 C334.7 616 336.3 620 337.6 624 M310 618 C319 620.5 328.5 623 337.6 625" fill="none" stroke="#000" stroke-width="0.95" stroke-linecap="round" stroke-linejoin="round" />
<path d="M332.7 591.4 C331.3 593 330.6 594.7 330.7 596.4 C331 599 331.7 601.7 332.7 604.2 C335 608.3 337.7 612.2 340.6 616 C342.8 619.5 344.8 623 346.5 626 C348 628.8 349.3 631.5 350.4 633.8" fill="none" stroke="#000" stroke-width="1.06" stroke-linecap="round" stroke-linejoin="round" />
<path d="M332.7 590.6 C338 588.5 343 586.5 348.5 584.5 C359 582 369 579.8 380 578.4 C385 577.6 389.5 577.1 393.6 576.9" fill="none" stroke="#000" stroke-width="0.95" stroke-linecap="round" stroke-linejoin="round" />
<path d="M397.7 576.4 C402 576.6 406 577 410 577.7 C411.8 578.2 413 578.9 413.4 579.8 C413.2 580.7 412.5 581.2 411.4 581.5 C407 582.2 402.5 582.8 397.7 583.2" fill="none" stroke="#000" stroke-width="1.06" stroke-linecap="round" stroke-linejoin="round" />
<path d="M336.6 589.5 C342 588 347 586.8 352 586 M360 588.8 C367 587.8 374 586.8 380 585.9 C385 585 389.5 584 393.6 583.2" fill="none" stroke="#000" stroke-width="0.85" stroke-linecap="round" stroke-linejoin="round" />
<path d="M328.8 604.2 C336.5 601.7 344.5 599.4 352.4 597.3 C361.5 595.2 371 593.3 380 591.8 C385 591 390 590.3 395.5 589.6" fill="none" stroke="#000" stroke-width="1.06" stroke-linecap="round" stroke-linejoin="round" />
<path d="M334.7 603.2 C349.5 599.8 365 597 380 594.2 C386 593.2 392 592.3 397.5 591.5 C408 590.3 418 588.8 427.5 587" fill="none" stroke="#000" stroke-width="0.85" stroke-linecap="round" stroke-linejoin="round" />
<path d="M397.7 589.6 C408 588.6 418 587.2 427.7 585.5" fill="none" stroke="#000" stroke-width="2.54" stroke-linecap="round" stroke-linejoin="round" />
<path d="M425 588 C428 591 431.5 594.3 434.5 597.5" fill="none" stroke="#000" stroke-width="1.06" stroke-linecap="round" stroke-linejoin="round" />
<path d="M344.5 585.5 C345.5 584 346.8 583.5 348.5 583.5 C351 583.3 353 583.6 354.5 584.6 C355.5 585.5 356.2 586.5 356.4 587.5" fill="none" stroke="#000" stroke-width="0.95" stroke-linecap="round" stroke-linejoin="round" />
<path d="M360.3 574.7 C362 573.3 364 572.3 366.2 571.7 C369 571.3 371.5 571.3 374 571.7 C374.8 573.3 375.5 575 376 576.7 C373.5 577.3 371 577.6 368.2 577.6 C365.5 577 363 576 360.3 574.7 Z M366.2 571.7 L368.2 577.6" fill="none" stroke="#000" stroke-width="0.95" stroke-linecap="round" stroke-linejoin="round" />
<path d="M350.4 629.5 C353.5 629.6 357 629.7 360 629.8 C370 631.3 380 632.5 389.5 632.8 C400 632.8 410 632 419 630.8 C423 630 426.5 628.5 430 626.5" fill="none" stroke="#000" stroke-width="1.06" stroke-linecap="round" stroke-linejoin="round" />
<path d="M379.7 625.2 C392 623.6 405 623 418.5 623.4 L419.3 626 C406 626 393 626 379.7 625.2 Z" fill="#555" stroke="#000" stroke-width="1.06" stroke-linecap="round" stroke-linejoin="round" />
<path d="M389 623 C399 622.4 409 622.5 418.5 623.4" fill="none" stroke="#000" stroke-width="0.74" stroke-linecap="round" stroke-linejoin="round" />
<path d="M393.5 640.7 C402 639.6 411 638.3 419 636.7 C425 635.7 431 634.2 436.8 632.4 C440 631.6 443 630.8 445.9 629.9" fill="none" stroke="#000" stroke-width="1.06" stroke-linecap="round" stroke-linejoin="round" />
<path d="M452.7 613.6 C455 614.2 457 615.1 458.8 616.3 C459.9 617.8 460.5 619.4 460.7 621.2 C460.9 623.8 460.8 626.3 460.3 628.8 C460 630.2 459.5 631.4 458.8 632.6 C456.9 634.2 454.9 635.5 452.7 636.4 C451.9 636.3 451.2 636 450.5 635.6 C448.8 633.9 447.2 632 445.9 629.9 C447.9 628.2 449.7 626.3 451.2 624.2 C452.4 622.6 453.3 620.8 453.9 618.9 C453.8 617.1 453.4 615.3 452.7 613.6 Z" fill="#cdcdcd" stroke="#000" stroke-width="1.17" stroke-linecap="round" stroke-linejoin="round" />
<path d="M455.3 616.5 C456.3 620 456.3 624 455.3 627.5 C453.8 630 451.8 632 449.5 633.3 M457.8 618.5 C458.6 622 458.4 626 457.3 629.5" fill="none" stroke="#000" stroke-width="0.85" stroke-linecap="round" stroke-linejoin="round" />
<path d="M439.1 602.3 C441.2 604.6 443.2 606.9 445.2 609.1 C446.2 610 447.2 610.8 448.2 611.4 C449.7 612.2 451.2 612.9 452.7 613.6" fill="none" stroke="#000" stroke-width="1.06" stroke-linecap="round" stroke-linejoin="round" />
<path d="M448.2 611.4 C448.2 612.2 448.1 612.9 447.8 613.6 C447.1 615 446.3 616.2 445.2 617.4 C443.4 619 441.3 620.4 439.1 621.6 C436.3 623.4 433.2 625 430 626.5" fill="none" stroke="#000" stroke-width="1.06" stroke-linecap="round" stroke-linejoin="round" />
<path d="M459.2 632.6 C460.2 634.8 461.1 637.1 461.8 639.4 C462.7 641.9 463.5 644.4 464.1 647 C464.5 649 464.7 651 464.8 653 C465 657 465.3 660 465.4 660.8 C466 664 466.3 669 466.4 674.5 C466.3 678 466 681.5 465.4 684.4 C464.6 688 463.7 691.5 462.4 694.2 C461 696.5 459.3 698.5 457.5 700" fill="none" stroke="#000" stroke-width="1.17" stroke-linecap="round" stroke-linejoin="round" />
<path d="M458.5 633 C457.6 636 457.2 639.2 457.3 642.4 C457.3 644.7 457.4 647 457.7 649.2 C458.1 651.3 458.7 653.3 459.5 655.3 M463.3 651.5 C462 653.3 460.5 654.8 458.8 656 C456.2 657.5 453.4 658.6 450.5 659.5" fill="none" stroke="#000" stroke-width="0.95" stroke-linecap="round" stroke-linejoin="round" />
<ellipse cx="435.6" cy="638.2" rx="1.5" ry="1.0" fill="#fff" stroke="#000" stroke-width="1.0"/><ellipse cx="439" cy="637.8" rx="1.5" ry="1.0" fill="#fff" stroke="#000" stroke-width="1.0"/>
<ellipse cx="319.3" cy="568.6" rx="1.5" ry="1.0" fill="#fff" stroke="#000" stroke-width="1.0"/><ellipse cx="322.8" cy="568.2" rx="1.5" ry="1.0" fill="#fff" stroke="#000" stroke-width="1.0"/>
<path d="M192.2 601.3 C193.5 599.7 195 598.3 197 597.3 C200 596 203 595 206 594.4 C207.5 595 208.5 596 209 597.3 C209.4 600.5 209.5 604 209.3 607.2 C208.5 608.6 207.4 609.5 206 609.8 C202.7 609.9 199.3 609.7 196 609.2 C194.5 608.2 193.4 606.8 192.8 605.2 C192.3 604 192.1 602.7 192.2 601.3 Z" fill="#fff" stroke="#000" stroke-width="1.17" stroke-linecap="round" stroke-linejoin="round" />
<path d="M194.8 602 C196 600.5 197.5 599.5 199.5 598.8 C202 598 204.5 597.5 206.5 597.3 C207 600.5 207.2 604 207 607 C204 607.8 200.5 607.8 197.5 607.3 C196 606 195 604 194.8 602 Z" fill="none" stroke="#000" stroke-width="0.74" stroke-linecap="round" stroke-linejoin="round" />
<path d="M202 610 C202.7 612.3 203.7 614.4 205 616 C206.6 615.3 208 614.3 209 613 L209.3 609" fill="none" stroke="#000" stroke-width="0.95" stroke-linecap="round" stroke-linejoin="round" />
<path d="M209.5 613 L240.5 628" fill="none" stroke="#000" stroke-width="0.85" stroke-linecap="round" stroke-linejoin="round" />
<path d="M225.5 631.5 C225.7 628.8 228 626.8 231.6 626.6 C235 626.6 237.6 628.3 237.8 631 C237.8 634 235.3 636.3 231.8 636.4 C228.3 636.4 225.6 634.3 225.5 631.5 Z M226.5 630.5 C231 630.4 236 631 240.3 632.3 M226.5 633 C230.5 633.3 235 633.8 238.5 634.2" fill="none" stroke="#000" stroke-width="0.95" stroke-linecap="round" stroke-linejoin="round" />
<path d="M283.5 638.7 C283.6 635.6 286.5 633.4 290.4 633.3 C294.3 633.3 297.3 635.4 297.4 638.5 C297.4 641.8 294.5 644.3 290.6 644.3 C286.6 644.3 283.5 642 283.5 638.7 Z M284.5 637.5 C289.5 637.3 295 638 300.2 640 C300.6 641.3 299.8 642.3 298.5 642.3 C294 641.3 289 640.8 284.6 640.8" fill="none" stroke="#000" stroke-width="0.95" stroke-linecap="round" stroke-linejoin="round" />
<path d="M254.2 613 C250 617.5 246 622.5 242.4 627.9 C241.3 632.5 240.7 637 240.5 641.7 C240.5 647 240.8 652 241.3 656 C242 663 242.8 670 243.4 676.5 C242.7 677.7 242.3 679 242.5 680.3 C242.8 682.7 243.2 685 243.4 687.3" fill="none" stroke="#000" stroke-width="0.95" stroke-linecap="round" stroke-linejoin="round" />
<path d="M309 620 C307.8 624.5 306.4 629 305 633.8 C303 640 300.5 646.5 297.3 654.8 C296 658.5 294.6 662.5 293.3 666.7" fill="none" stroke="#000" stroke-width="0.95" stroke-linecap="round" stroke-linejoin="round" />
<path d="M275.6 621 C286 621.8 296.5 622.8 307 624 C314.5 626 322 628.3 328.8 630.8" fill="none" stroke="#000" stroke-width="0.85" stroke-linecap="round" stroke-linejoin="round" />
<path d="M175 685.4 C180 684.6 184.5 683 188.5 681.2 C191 679.5 193 677.5 194.5 675.2 C193 673.5 191.3 671.8 189.7 670.3" fill="none" stroke="#000" stroke-width="1.17" stroke-linecap="round" stroke-linejoin="round" />
<g transform="translate(170.5 657) rotate(-8)"><ellipse rx="15.5" ry="28.8" fill="#fff" stroke="#000" stroke-width="1.2"/><g transform="translate(-0.6 0)"><ellipse rx="11.62" ry="21.60" fill="#fff" stroke="#000" stroke-width="1.2"/><ellipse rx="10.58" ry="19.66" fill="none" stroke="#000" stroke-width="0.6"/><line x1="2.09" y1="-0.05" x2="10.49" y2="2.55" stroke="#000" stroke-width="1.1"/><line x1="1.82" y1="1.91" x2="9.86" y2="7.11" stroke="#000" stroke-width="1.1"/><line x1="1.71" y1="2.24" x2="7.68" y2="13.52" stroke="#000" stroke-width="1.1"/><line x1="0.87" y1="3.54" x2="5.73" y2="16.52" stroke="#000" stroke-width="1.1"/><line x1="0.67" y1="3.68" x2="1.94" y2="19.32" stroke="#000" stroke-width="1.1"/><line x1="-0.42" y1="3.81" x2="-0.59" y2="19.63" stroke="#000" stroke-width="1.1"/><line x1="-0.62" y1="3.71" x2="-4.55" y2="17.75" stroke="#000" stroke-width="1.1"/><line x1="-1.54" y1="2.63" x2="-6.69" y2="15.23" stroke="#000" stroke-width="1.1"/><line x1="-1.68" y1="2.33" x2="-9.29" y2="9.39" stroke="#000" stroke-width="1.1"/><line x1="-2.08" y1="0.44" x2="-10.23" y2="5.02" stroke="#000" stroke-width="1.1"/><line x1="-2.09" y1="0.05" x2="-10.49" y2="-2.55" stroke="#000" stroke-width="1.1"/><line x1="-1.82" y1="-1.91" x2="-9.86" y2="-7.11" stroke="#000" stroke-width="1.1"/><line x1="-1.71" y1="-2.24" x2="-7.68" y2="-13.52" stroke="#000" stroke-width="1.1"/><line x1="-0.87" y1="-3.54" x2="-5.73" y2="-16.52" stroke="#000" stroke-width="1.1"/><line x1="-0.67" y1="-3.68" x2="-1.94" y2="-19.32" stroke="#000" stroke-width="1.1"/><line x1="0.42" y1="-3.81" x2="0.59" y2="-19.63" stroke="#000" stroke-width="1.1"/><line x1="0.62" y1="-3.71" x2="4.55" y2="-17.75" stroke="#000" stroke-width="1.1"/><line x1="1.54" y1="-2.63" x2="6.69" y2="-15.23" stroke="#000" stroke-width="1.1"/><line x1="1.68" y1="-2.33" x2="9.29" y2="-9.39" stroke="#000" stroke-width="1.1"/><line x1="2.08" y1="-0.44" x2="10.23" y2="-5.02" stroke="#000" stroke-width="1.1"/><ellipse rx="2.09" ry="3.89" fill="none" stroke="#000" stroke-width="0.7"/><ellipse rx="1.40" ry="2.59" fill="#fff" stroke="#000" stroke-width="0.8"/></g></g>
<path d="M152.7 650.9 C152 646 151.9 641 152.1 636.4 C152.5 632.8 153.3 629.5 154.5 626.7 C156 624.5 158 623 160.6 622.4 C163 622.5 165.5 623.1 167.9 624.2 C170.6 626.5 173 629.4 175.2 632.7 C177.4 636.1 179.4 639.7 181.2 643.6 C183 647.9 184.7 652.4 186.1 657 C187 659.4 187.8 661.8 188.5 664.2" fill="none" stroke="#000" stroke-width="1.06" stroke-linecap="round" stroke-linejoin="round" />
<path d="M152.1 621.8 C153 619.5 154.3 617.7 155.8 616.4 C158.5 615 161.3 614.4 164.2 614.5 C166.8 615.3 169.3 616.5 171.5 618.2 C174.3 621 176.7 624.2 178.8 627.9 C181 631.7 183 635.8 184.8 640 C186.6 644.7 188.3 649.5 189.7 654.5 C190.9 657.4 192.1 660.2 193.3 663" fill="none" stroke="#000" stroke-width="1.06" stroke-linecap="round" stroke-linejoin="round" />
<path d="M155.8 631.5 C157 629.8 158.6 628.6 160.6 627.9 C163.5 627.5 166.3 627.7 169.1 628.5" fill="none" stroke="#000" stroke-width="0.85" stroke-linecap="round" stroke-linejoin="round" />
<path d="M151.5 609.1 C150.3 612 149.5 615 149.1 618.2 C148.6 624 148.4 630 148.5 636.4 C148.7 641.3 149.1 646.2 149.7 650.9 C150.3 653.2 151.1 655.2 152.1 657 C153.2 658.4 154.4 659.6 155.8 660.6" fill="none" stroke="#000" stroke-width="1.17" stroke-linecap="round" stroke-linejoin="round" />
<path d="M192.8 605.2 C191.2 607.4 190.2 609.7 189.7 612.1 C188.9 618 188.5 624 188.5 630.3 C188.9 636.5 189.7 642.6 190.9 648.5 C191.6 653.4 192.4 658.2 193.3 663" fill="none" stroke="#000" stroke-width="0.95" stroke-linecap="round" stroke-linejoin="round" />
<path d="M314.5 745.2 C322 743.5 329.5 740.5 336.5 736.4" fill="none" stroke="#000" stroke-width="1.17" stroke-linecap="round" stroke-linejoin="round" />
<g transform="translate(305 709.2) rotate(-12)"><ellipse rx="21" ry="37" fill="#fff" stroke="#000" stroke-width="1.2"/><g transform="translate(-0.8 0)"><ellipse rx="15.75" ry="27.75" fill="#fff" stroke="#000" stroke-width="1.2"/><ellipse rx="14.33" ry="25.25" fill="none" stroke="#000" stroke-width="0.6"/><line x1="2.68" y1="-0.07" x2="14.21" y2="3.27" stroke="#000" stroke-width="1.3"/><line x1="2.33" y1="2.32" x2="13.36" y2="9.13" stroke="#000" stroke-width="1.3"/><line x1="2.19" y1="2.72" x2="10.41" y2="17.37" stroke="#000" stroke-width="1.3"/><line x1="1.11" y1="4.29" x2="7.76" y2="21.23" stroke="#000" stroke-width="1.3"/><line x1="0.86" y1="4.47" x2="2.62" y2="24.83" stroke="#000" stroke-width="1.3"/><line x1="-0.53" y1="4.62" x2="-0.80" y2="25.21" stroke="#000" stroke-width="1.3"/><line x1="-0.79" y1="4.51" x2="-6.16" y2="22.80" stroke="#000" stroke-width="1.3"/><line x1="-1.97" y1="3.19" x2="-9.06" y2="19.57" stroke="#000" stroke-width="1.3"/><line x1="-2.14" y1="2.83" x2="-12.59" y2="12.07" stroke="#000" stroke-width="1.3"/><line x1="-2.66" y1="0.54" x2="-13.86" y2="6.45" stroke="#000" stroke-width="1.3"/><line x1="-2.68" y1="0.07" x2="-14.21" y2="-3.27" stroke="#000" stroke-width="1.3"/><line x1="-2.33" y1="-2.32" x2="-13.36" y2="-9.13" stroke="#000" stroke-width="1.3"/><line x1="-2.19" y1="-2.72" x2="-10.41" y2="-17.37" stroke="#000" stroke-width="1.3"/><line x1="-1.11" y1="-4.29" x2="-7.76" y2="-21.23" stroke="#000" stroke-width="1.3"/><line x1="-0.86" y1="-4.47" x2="-2.62" y2="-24.83" stroke="#000" stroke-width="1.3"/><line x1="0.53" y1="-4.62" x2="0.80" y2="-25.21" stroke="#000" stroke-width="1.3"/><line x1="0.79" y1="-4.51" x2="6.16" y2="-22.80" stroke="#000" stroke-width="1.3"/><line x1="1.97" y1="-3.19" x2="9.06" y2="-19.57" stroke="#000" stroke-width="1.3"/><line x1="2.14" y1="-2.83" x2="12.59" y2="-12.07" stroke="#000" stroke-width="1.3"/><line x1="2.66" y1="-0.54" x2="13.86" y2="-6.45" stroke="#000" stroke-width="1.3"/><ellipse rx="2.68" ry="4.72" fill="none" stroke="#000" stroke-width="0.7"/><ellipse rx="1.79" ry="3.15" fill="#fff" stroke="#000" stroke-width="0.8"/></g></g>
<path d="M273.5 685.3 C274 679.5 275.2 674.2 277.1 669.5 C279.3 665.3 282.1 662.1 285.6 659.8 C289 657.6 292.6 656.2 296.5 655.6 C302.5 656 308.2 657.8 313.5 661 C317.2 663.7 320.4 667 323.2 670.8 C326.8 675.8 330 681 332.9 686.5 C334.6 689.3 336.2 692.1 337.7 695 C338.2 699 338.4 703 338.3 707 C338.2 712 337.6 717.5 336.5 722.9" fill="none" stroke="#000" stroke-width="1.17" stroke-linecap="round" stroke-linejoin="round" />
<path d="M279.5 691.4 C279.8 686.7 280.6 682.2 282 678 C283.8 674.5 286.2 671.9 289.2 670.2 C292.7 668.9 296.4 668.5 300.2 668.9 C304.2 670.3 307.8 672.5 311 675.6 C314.2 679 317 682.6 319.5 686.5 C322.2 691.2 324.6 696 326.8 701 C329 705.8 331 710.7 332.9 715.6 C334 718.2 335.2 720.6 336.5 722.9" fill="none" stroke="#000" stroke-width="1.06" stroke-linecap="round" stroke-linejoin="round" />
<path d="M292.9 673.2 C297.5 671.5 302 670.9 306.2 671.4 C309.8 674.3 313 677.7 315.9 681.7 C318.6 686.4 321 691.2 323.2 696.2 C325.8 701.4 328.2 706.7 330.5 712 C332 715.3 333.7 718.5 335.3 721.7" fill="none" stroke="#000" stroke-width="0.85" stroke-linecap="round" stroke-linejoin="round" />
<path d="M187.9 664.2 L193.3 663 C202 665.3 211 667.8 220 670.3 C233 674 246 677.5 258 680.5 C263 681.6 267 683 270 684.4 C272.5 686.5 274.5 688.8 275.6 691.3" fill="none" stroke="#000" stroke-width="1.06" stroke-linecap="round" stroke-linejoin="round" />
<path d="M195.8 666 C204 668.2 212 670.4 220 672.7 C232 676 245 679 256 681.6 M197 668.5 C205 670.6 213 673 220 675.3 C238 680.5 256 686 271.7 692.3 M198.2 672.7 C206 675 213 677.7 220 680.6 C240 687 260 694.5 275.6 702 M187.9 664.2 C188.3 666.5 188.9 668.5 189.7 670.3 C190.8 671.3 192 672.1 193.3 672.7 L198.2 672.7 M199 675.6 C223 683 253 694.5 279.5 708" fill="none" stroke="#000" stroke-width="0.95" stroke-linecap="round" stroke-linejoin="round" />
<ellipse cx="324.5" cy="655" rx="7" ry="9" fill="#fff" stroke="#000" stroke-width="1.0" transform="rotate(14 324.5 655)"/>
<path d="M336.7 656.8 C333 661.5 329 666.3 324.8 670.6 M348.5 656.8 C351 661 354.5 664.8 358.5 667.8 C361.5 670 364.8 671.6 368.2 672.6" fill="none" stroke="#000" stroke-width="0.85" stroke-linecap="round" stroke-linejoin="round" />
<path d="M328.2 630.9 C334.5 632.3 341 633.4 347.3 634.3 C354 635.3 361 636.2 367.7 637 C376.5 638 385.5 639.2 394.3 640.5 C393.3 642.2 392.2 643.8 390.9 645.2 C389.3 646.8 387.5 648.2 385.5 649.3 C383.8 650.1 382 650.7 380 651 C376 651 372 650.9 368.4 650.7 L367 652.5 C361 652.4 355 652.2 349.3 652 C346.8 651.9 344.3 651.7 341.8 651.4 C339.8 649.8 338 648 336.4 645.9 C334.6 643.3 333 640.5 331.6 637.7 C330.4 635.5 329.3 633.2 328.2 630.9 Z" fill="#cdcdcd" stroke="#000" stroke-width="1.17" stroke-linecap="round" stroke-linejoin="round" />
<path d="M337.7 635.7 C346.5 636.6 356 637.2 365 637.7 C366 639 366.7 640.3 367 641.8 C367.2 643.7 367 645.6 366.4 647.3 C365.7 648.3 364.8 649 363.6 649.3 C358.5 649.5 353.5 649.5 348.6 649.3 C345.8 649.2 343 649 340.5 648.6 C339.3 644.5 338.4 640 337.7 635.7 Z" fill="#fff" stroke="#000" stroke-width="0.95" stroke-linecap="round" stroke-linejoin="round" />
<path d="M349.5 637.3 C350 639.5 351 641.5 352.5 643.3 C353.8 644.2 355.5 644.6 357 644.3 M355.5 637.7 C358.5 638 361 638.4 363 639 C364 641 364 643.5 363 645.8 C361.5 646.6 359.5 646.8 357.5 646.5" fill="none" stroke="#000" stroke-width="0.95" stroke-linecap="round" stroke-linejoin="round" />
<path d="M349 650.4 L365 650.4" fill="none" stroke="#000" stroke-width="1.70" stroke-linecap="round" stroke-linejoin="round" />
<path d="M373.2 639 C378 639.4 383.5 640 388.2 640.5 C389.7 640.8 391.2 641.2 392.3 641.8 C390.8 643.8 389.2 645.7 387.5 647.3 C385.2 648.4 382.5 649.1 380 649.3 C379 648.8 378 648.1 377.3 647.3 C379.8 646.8 382 646.1 384 645.2 C384.6 644.3 384.9 643.4 384.8 642.5 C381.5 642.1 378 641.9 374.5 641.8 Z" fill="#fff" stroke="#000" stroke-width="0.95" stroke-linecap="round" stroke-linejoin="round" />
<path d="M367.7 636.4 L369 651.4" fill="none" stroke="#000" stroke-width="0.95" stroke-linecap="round" stroke-linejoin="round" />
<path d="M336.7 702 C345 701 353 700 360 698.3 L370 697 M377.7 697.2 C388 696.3 399 695 409.2 693.3 C419.5 691.4 429.5 689 438.8 686.4 C448 683.5 456.5 680.3 464.4 676.5" fill="none" stroke="#000" stroke-width="1.06" stroke-linecap="round" stroke-linejoin="round" />
<path d="M379.7 703 C390 701.5 401 699.5 411 697.2 C421 695 430.5 692.5 439 690 C448 687 456.5 684 465 680.5" fill="none" stroke="#000" stroke-width="0.95" stroke-linecap="round" stroke-linejoin="round" />
<path d="M350 702.8 L370 702.6 M350 705 L370 704.8" fill="none" stroke="#000" stroke-width="1.48" stroke-linecap="round" stroke-linejoin="round" />
<path d="M352 712 L370 712 M379.7 703 L387.6 705 L381.7 713" fill="none" stroke="#000" stroke-width="0.95" stroke-linecap="round" stroke-linejoin="round" />
<path d="M336.7 723.8 C345 724 353 724 360 723.8 L370 722.8 M379.7 722.8 C383 720 386 717.7 389.5 716 C398 713.6 406.5 711.7 415 710 C423.5 708 431.5 706 438.8 704 C445.5 702 451.5 699.7 456.5 697.2 L457.5 700" fill="none" stroke="#000" stroke-width="1.06" stroke-linecap="round" stroke-linejoin="round" />
<path d="M396 719.5 C402 718 408.5 716.5 415 715 C423.5 712.8 431.5 710.3 439 707.7 C446 705.3 452 702.8 457.5 700" fill="none" stroke="#000" stroke-width="0.95" stroke-linecap="round" stroke-linejoin="round" />
<ellipse cx="390.5" cy="721" rx="3.4" ry="4.3" fill="#fff" stroke="#000" stroke-width="0.9"/><ellipse cx="394.5" cy="719.7" rx="3.2" ry="4" fill="none" stroke="#000" stroke-width="0.8"/>
<ellipse cx="450.5" cy="705.8" rx="2.8" ry="3.7" fill="#fff" stroke="#000" stroke-width="0.9"/>
<path d="M381.7 674.5 C391 673 400.5 671.3 409.2 669.6 C418 668 427 666.3 434.8 664.7 C443 662.6 451 660.3 458.5 657.8" fill="none" stroke="#000" stroke-width="1.06" stroke-linecap="round" stroke-linejoin="round" />
<path d="M383.6 677.5 C393 676 402.5 674.3 411.2 672.6 C420 671 429 669 437 667 C444.5 665 452 662.6 458.5 660.3 M381.7 674.5 L383.6 677.5" fill="none" stroke="#000" stroke-width="0.95" stroke-linecap="round" stroke-linejoin="round" />
<path d="M398.4 676.5 C395 682.5 392 688.5 389.5 694.2 M407.3 674.5 L409.2 692.5 M436.8 667 L438.8 685.5 M444.7 665.7 C448 670.3 451.5 675 454.5 679.5" fill="none" stroke="#000" stroke-width="0.95" stroke-linecap="round" stroke-linejoin="round" />
<path d="M413.7 671.6 L414.2 686.4 L433.9 685.4 L433.9 667.7" fill="none" stroke="#777" stroke-width="0.74" stroke-linecap="round" stroke-linejoin="round" />
<path d="M411.5 670.6 L416 669.8 M430.5 666.3 L435 665.3" fill="none" stroke="#000" stroke-width="2.12" stroke-linecap="round" stroke-linejoin="round" />
</g>
<path d="M176.5 68.0 L176.5 112.0" fill="none" stroke="#555" stroke-width="0.9"/>
<path d="M228.9 95.9 L228.9 158.0" fill="none" stroke="#fff" stroke-width="3.4"/>
<path d="M228.9 95.9 L228.9 158.0" fill="none" stroke="#b4b4b4" stroke-width="1.9"/>
<path d="M117.0 209.5 L117.0 294.4 L133.0 294.4" fill="none" stroke="#fff" stroke-width="3.4"/>
<path d="M117.0 209.5 L117.0 294.4 L133.0 294.4" fill="none" stroke="#7a7a7a" stroke-width="1.2"/>
<path d="M108.1 208.3 L108.1 330.0 L118.0 330.0" fill="none" stroke="#fff" stroke-width="3.4"/>
<path d="M108.1 208.3 L108.1 330.0 L118.0 330.0" fill="none" stroke="#7a7a7a" stroke-width="1.2"/>
<path d="M98.3 249.0 L98.3 362.6 L133.0 362.6" fill="none" stroke="#fff" stroke-width="3.4"/>
<path d="M98.3 249.0 L98.3 362.6 L133.0 362.6" fill="none" stroke="#7a7a7a" stroke-width="1.2"/>
<path d="M91.4 238.6 L91.4 387.0 L116.0 387.0" fill="none" stroke="#fff" stroke-width="3.4"/>
<path d="M91.4 238.6 L91.4 387.0 L116.0 387.0" fill="none" stroke="#7a7a7a" stroke-width="1.2"/>
<path d="M87.4 210.8 L87.4 411.0 L126.0 411.0" fill="none" stroke="#fff" stroke-width="3.4"/>
<path d="M87.4 210.8 L87.4 411.0 L126.0 411.0" fill="none" stroke="#7a7a7a" stroke-width="1.2"/>
<path d="M79.5 210.0 L79.5 436.7 L116.0 436.7" fill="none" stroke="#fff" stroke-width="3.4"/>
<path d="M79.5 210.0 L79.5 436.7 L116.0 436.7" fill="none" stroke="#7a7a7a" stroke-width="1.2"/>
<path d="M496.5 68.0 L496.5 112.0" fill="none" stroke="#555" stroke-width="0.9"/>
<path d="M548.5 101.3 L548.5 158.0" fill="none" stroke="#fff" stroke-width="3.4"/>
<path d="M548.5 101.3 L548.5 158.0" fill="none" stroke="#6a6a6a" stroke-width="0.9"/>
<path d="M439.4 210.0 L439.4 296.4 L461.0 296.4" fill="none" stroke="#fff" stroke-width="3.4"/>
<path d="M439.4 210.0 L439.4 296.4 L461.0 296.4" fill="none" stroke="#7a7a7a" stroke-width="1.2"/>
<path d="M427.6 209.0 L427.6 341.0 L437.0 341.0" fill="none" stroke="#fff" stroke-width="3.4"/>
<path d="M427.6 209.0 L427.6 341.0 L437.0 341.0" fill="none" stroke="#7a7a7a" stroke-width="1.2"/>
<path d="M418.3 249.0 L418.3 394.5 L469.0 394.5" fill="none" stroke="#fff" stroke-width="3.4"/>
<path d="M418.3 249.0 L418.3 394.5 L469.0 394.5" fill="none" stroke="#7a7a7a" stroke-width="1.2"/>
<path d="M411.3 238.6 L411.3 415.0 L436.5 415.0" fill="none" stroke="#fff" stroke-width="3.4"/>
<path d="M411.3 238.6 L411.3 415.0 L436.5 415.0" fill="none" stroke="#7a7a7a" stroke-width="1.2"/>
<path d="M407.6 210.8 L407.6 441.4 L463.0 441.4" fill="none" stroke="#fff" stroke-width="3.4"/>
<path d="M407.6 210.8 L407.6 441.4 L463.0 441.4" fill="none" stroke="#7a7a7a" stroke-width="1.2"/>
<path d="M321.0 540.5 L321.0 567.0" fill="none" stroke="#555" stroke-width="0.9"/>
<path d="M447.9 529.2 L395.7 529.2 L395.7 591.2" fill="none" stroke="#fff" stroke-width="3.4"/>
<path d="M447.9 529.2 L395.7 529.2 L395.7 591.2" fill="none" stroke="#666" stroke-width="1.2"/>
<path d="M450.0 550.8 L437.4 550.8 L437.4 636.0" fill="none" stroke="#fff" stroke-width="3.4"/>
<path d="M450.0 550.8 L437.4 550.8 L437.4 636.0" fill="none" stroke="#666" stroke-width="1.2"/>
<path d="M323.4 757.4 L338.8 757.4 L338.8 635.8" fill="none" stroke="#fff" stroke-width="3.4"/>
<path d="M323.4 757.4 L338.8 757.4 L338.8 635.8" fill="none" stroke="#7a7a7a" stroke-width="1.2"/>
<path d="M327.0 784.0 L346.0 784.0 L346.0 641.0" fill="none" stroke="#fff" stroke-width="3.4"/>
<path d="M327.0 784.0 L346.0 784.0 L346.0 641.0" fill="none" stroke="#7a7a7a" stroke-width="1.2"/>
<path d="M314.7 811.4 L358.2 811.4 L358.2 641.8" fill="none" stroke="#fff" stroke-width="3.4"/>
<path d="M314.7 811.4 L358.2 811.4 L358.2 641.8" fill="none" stroke="#7a7a7a" stroke-width="1.2"/>
<path d="M398.0 812.0 L371.5 812.0 L371.5 637.0" fill="none" stroke="#fff" stroke-width="3.4"/>
<path d="M398.0 812.0 L371.5 812.0 L371.5 637.0" fill="none" stroke="#7a7a7a" stroke-width="1.2"/>
<path d="M388.5 785.5 L376.6 785.5 L376.6 643.6" fill="none" stroke="#fff" stroke-width="3.4"/>
<path d="M388.5 785.5 L376.6 785.5 L376.6 643.6" fill="none" stroke="#7a7a7a" stroke-width="1.2"/>
<path d="M413.5 742.4 L413.5 671.0" fill="none" stroke="#fff" stroke-width="3.4"/>
<path d="M413.5 742.4 L413.5 671.0" fill="none" stroke="#7a7a7a" stroke-width="1.2"/>
<g stroke="#000" stroke-width="1.85" stroke-linecap="round"><line x1="183.33" y1="79.20" x2="191.07" y2="79.20"/><line x1="184.46" y1="76.46" x2="189.94" y2="81.94"/><line x1="187.20" y1="75.33" x2="187.20" y2="83.07"/><line x1="189.94" y1="76.46" x2="184.46" y2="81.94"/></g><circle cx="187.2" cy="79.2" r="1.98" fill="#000"/>
<g stroke="#000" stroke-width="1.85" stroke-linecap="round"><line x1="502.33" y1="79.20" x2="510.07" y2="79.20"/><line x1="503.46" y1="76.46" x2="508.94" y2="81.94"/><line x1="506.20" y1="75.33" x2="506.20" y2="83.07"/><line x1="508.94" y1="76.46" x2="503.46" y2="81.94"/></g><circle cx="506.2" cy="79.2" r="1.98" fill="#000"/>
<g stroke="#000" stroke-width="1.76" stroke-linecap="round"><line x1="137.00" y1="350.60" x2="144.40" y2="350.60"/><line x1="138.09" y1="347.99" x2="143.31" y2="353.21"/><line x1="140.70" y1="346.90" x2="140.70" y2="354.30"/><line x1="143.31" y1="347.99" x2="138.09" y2="353.21"/></g><circle cx="140.7" cy="350.6" r="1.89" fill="#000"/>
<g stroke="#000" stroke-width="1.76" stroke-linecap="round"><line x1="468.80" y1="383.50" x2="476.20" y2="383.50"/><line x1="469.89" y1="380.89" x2="475.11" y2="386.11"/><line x1="472.50" y1="379.80" x2="472.50" y2="387.20"/><line x1="475.11" y1="380.89" x2="469.89" y2="386.11"/></g><circle cx="472.5" cy="383.5" r="1.89" fill="#000"/>
<g stroke="#000" stroke-width="1.68" stroke-linecap="round"><line x1="393.48" y1="800.80" x2="400.52" y2="800.80"/><line x1="394.51" y1="798.31" x2="399.49" y2="803.29"/><line x1="397.00" y1="797.28" x2="397.00" y2="804.32"/><line x1="399.49" y1="798.31" x2="394.51" y2="803.29"/></g><circle cx="397" cy="800.8" r="1.80" fill="#000"/>
<g stroke="#000" stroke-width="1.72" stroke-linecap="round"><line x1="547.79" y1="812.70" x2="555.01" y2="812.70"/><line x1="548.85" y1="810.15" x2="553.95" y2="815.25"/><line x1="551.40" y1="809.09" x2="551.40" y2="816.31"/><line x1="553.95" y1="810.15" x2="548.85" y2="815.25"/></g><circle cx="551.4" cy="812.7" r="1.84" fill="#000"/>
</svg>
<div class="h" style="left:5.7px;top:0.6px">With LED Headlights</div>
<div class="h" style="left:348.3px;top:0.6px">With Halogen Headlights</div>
<div class="t" style="left:49.3px;top:48.4px">Overhead lights (Front) /Map lights</div>
<div class="t" style="left:191.9px;top:75.7px">Side turn signal lights</div>
<div class="t" style="left:374.3px;top:48.4px">Overhead lights (Front) /Map lights</div>
<div class="t" style="left:510.6px;top:75.7px">Side turn signal lights</div>
<div class="t" style="left:134.6px;top:284.6px">Front side-marker lights</div>
<div class="t" style="left:119.6px;top:319.1px">Headlights (Low beam)</div>
<div class="t" style="left:145.3px;top:352.1px">Fog lights</div>
<div class="t" style="left:119.6px;top:376.1px">Front turn signal lights</div>
<div class="t" style="left:134.3px;top:400.9px">Headlights (High beam)</div>
<div class="t" style="left:119.6px;top:427.1px">Parking lights/Daytime</div>
<div class="t" style="left:119.6px;top:447.1px">running lights</div>
<div class="t" style="left:467.3px;top:286.6px">Parking lights/Front</div>
<div class="t" style="left:467.3px;top:306.1px">side-marker lights</div>
<div class="t" style="left:443.3px;top:330.1px">Headlights (Low beam)</div>
<div class="t" style="left:479.3px;top:384.1px">Fog lights</div>
<div class="t" style="left:443.3px;top:406.4px">Front turn signal lights</div>
<div class="t" style="left:467.3px;top:431.1px">Headlights (High</div>
<div class="t" style="left:467.3px;top:452.1px">beam)/Daytime running</div>
<div class="t" style="left:467.3px;top:472.1px">lights</div>
<div class="t" style="left:227.0px;top:520.8px">Overhead lights (Rear)</div>
<div class="t" style="left:449.7px;top:519.0px">High-mount brake light</div>
<div class="t" style="left:452.3px;top:541.1px">Luggage compartment light</div>
<div class="t" style="left:159.2px;top:745.1px">Rear side-marker lights</div>
<div class="t" style="left:171.8px;top:772.9px">Brake lights/Taillights</div>
<div class="t" style="left:159.3px;top:800.1px">Rear turn signal lights</div>
<div class="t" style="left:385.3px;top:740.5px">License plate lights</div>
<div class="t" style="left:390.1px;top:774.9px">Reverse lights</div>
<div class="t" style="left:400.9px;top:800.6px">Taillights</div>
<div class="t" style="left:556.0px;top:805.5px">Some models.</div>
</div></body></html>
